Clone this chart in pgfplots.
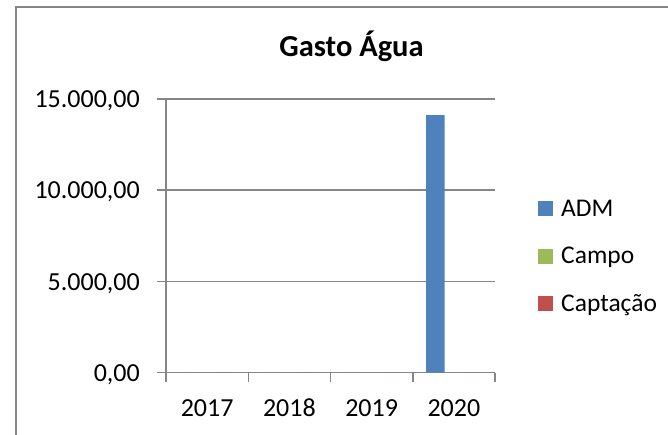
\documentclass[border=0pt]{standalone}
\usepackage{fontspec}
\setmainfont{Carlito}
\usepackage{pgfplots}
\pgfplotsset{compat=1.18}
\definecolor{axgray}{HTML}{868686}
\definecolor{admblue}{HTML}{4F81BD}
\definecolor{campogreen}{HTML}{9BBB59}
\definecolor{captred}{HTML}{C0504D}
\pgfplotsset{sqlegend/.style={legend image code/.code={\fill[##1] (0bp,-7.5bp) rectangle (15bp,7.5bp);}}}
\begin{document}
\begin{tikzpicture}
\useasboundingbox (0,0) rectangle (668bp,435bp);
\draw[axgray, line width=1.5bp] (16bp,-5bp) -- (16bp,428bp) -- (690bp,428bp);
\node[font=\bfseries\fontsize{30.5bp}{36bp}\selectfont, anchor=base] at (351.5bp,378bp) {Gasto Água};
\begin{axis}[
  at={(166bp,62.5bp)}, anchor=south west,
  scale only axis, width=329bp, height=273.5bp,
  xmin=-0.5, xmax=3.5, ymin=0, ymax=15000,
  axis x line=bottom, axis y line=left,
  axis line style={-, draw=axgray, line width=1.5bp},
  tick align=outside, major tick length=9bp,
  every tick/.style={axgray, line width=1.5bp},
  xtick={-0.5,0.5,1.5,2.5,3.5}, xticklabels={,,,,},
  extra x ticks={0,1,2,3}, extra x tick labels={2017,2018,2019,2020},
  extra x tick style={major tick length=0pt},
  ytick={0,5000,10000,15000},
  ymajorgrids, grid style={axgray, line width=1.5bp},
  scaled y ticks=false,
  /pgf/number format/assume math mode=true,
  yticklabel style={/pgf/number format/fixed, /pgf/number format/fixed zerofill, /pgf/number format/precision=2, /pgf/number format/use comma, /pgf/number format/1000 sep={.}},
  ticklabel style={font=\fontsize{26bp}{30bp}\selectfont},
  yticklabel style={inner sep=0pt, xshift=-17bp, yshift=-2bp},
  xticklabel style={anchor=base, yshift=-44bp},
  ybar, bar width=0.225,
  legend style={at={(1.1307,0.4241)}, anchor=west, draw=none, fill=none,
    inner sep=0pt, row sep=29.5bp, column sep=8bp,
    font=\fontsize{25.5bp}{30bp}\selectfont,
    nodes={inner sep=0pt}},
  legend cell align=left,
  sqlegend,
]
\addplot[fill=admblue, draw=none, bar shift=-0.225] coordinates {(0,0) (1,0) (2,0) (3,14120)};
\addplot[fill=campogreen, draw=none, bar shift=0] coordinates {(0,0) (1,0) (2,0) (3,0)};
\addplot[fill=captred, draw=none, bar shift=0.225] coordinates {(0,0) (1,0) (2,0) (3,0)};
\legend{ADM,Campo,Captação}
\end{axis}
\end{tikzpicture}
\end{document}
